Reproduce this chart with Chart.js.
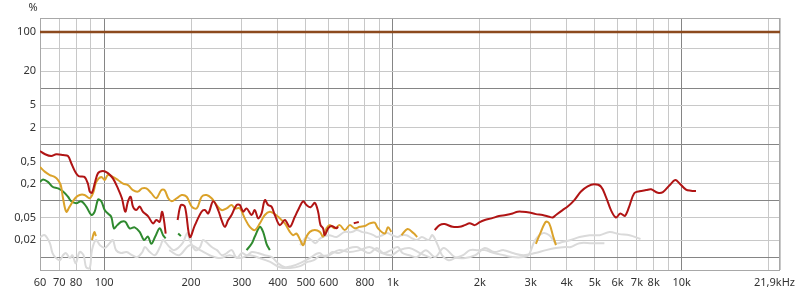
<!DOCTYPE html>
<html>
<head>
<meta charset="utf-8">
<script src="https://cdn.jsdelivr.net/npm/chart.js@4/dist/chart.umd.min.js"></script>
<style>
html,body{margin:0;padding:0;background:#fff}
</style>
</head>
<body>
<canvas id="c" width="800" height="294"></canvas>
<script>
// distortion, % vs frequency (Hz); null = gap in the trace
var refHz = [60, 21900]
var refPct = [100, 100]

var thdHz = [60,62.3,65.6,68.3,72.1,75,77,79.4,81.6,85.5,87.9,89.2,90.8,92.8,95.3,99.1,103.1,107.3,111.7,115.3,118.4,121,123.6,125.9,129.2,132.8,136.3,141.9,147.7,151.6,155.8,158.7,161.2,163.4,170,
  179.7,184.5,190.4,198.2,206.3,217.6,223.4,229.4,238.7,248.3,255.2,262,269,276.3,287.5,295.2,303.1,311.4,324.1,332.7,341.6,351,360.3,369.9,380,390.1,406,422.6,439.8,457.6,469.8,488.8,502.3,518.6,536.6,550.9,561.6,573.3,581.1,596.7,613,637.9,646,700,
  732,762,900,
  1396,1452,1512,1610,1703,1774,1845,1920,2000,2081,2196,2331,2462,2597,2703,2813,2965,3128,3300,3479,3575,3670,3870,4030,4250,4480,4725,4980,5250,5465,5690,5920,6130,6360,6580,6850,7140,7530,7840,8270,8610,9080,9500,9830,10350,10770,11210]
var thdPct = [0.765,0.678,0.625,0.67,0.65,0.625,0.465,0.33,0.275,0.266,0.202,0.146,0.139,0.202,0.31,0.34,0.31,0.25,0.166,0.111,0.064,0.098,0.118,0.079,0.0685,0.079,0.064,0.0536,0.0397,0.0455,0.0425,0.064,0.0455,0.0262,null,
  0.0455,0.084,0.079,0.0228,0.037,0.064,0.0685,0.0596,0.098,0.0685,0.0455,0.0345,0.0455,0.056,0.084,0.084,0.064,0.0733,0.056,0.0685,0.0488,0.0596,0.103,0.084,0.079,0.056,0.037,0.0455,0.0345,0.052,0.0685,0.098,0.084,0.077,0.092,0.064,0.037,0.0325,0.0245,0.0325,0.0356,0.0325,0.0345,null,
  0.040,0.042,null,
  0.0302,0.037,0.0386,0.0345,0.0345,0.037,0.040,0.037,0.042,0.0455,0.0488,0.0536,0.056,0.0596,0.064,0.064,0.062,0.058,0.056,0.052,0.0505,0.056,0.0685,0.079,0.103,0.146,0.18,0.196,0.18,0.118,0.0685,0.0505,0.0596,0.054,0.079,0.136,0.148,0.155,0.16,0.139,0.143,0.189,0.234,0.204,0.158,0.151,0.149]

var h2Hz = [60,62.3,64.9,67.4,69.3,70.8,72.1,74,76,79.4,82.3,85.6,89.2,91.6,94,97.8,100.5,103.1,107.3,111.7,116.3,121,125.9,131.1,135.3,140.1,145.7,151.6,157.8,162,166.8,171.4,178.4,185.7,193.2,201.1,209.3,217.7,226.5,235.7,245.3,255.2,265.6,276.3,283.7,295.2,307.1,319.6,332.7,346.2,360.3,374.9,390.1,406,422.6,439.8,451.6,464.1,477.5,489.1,502.3,515.7,536.6,558.4,573.3,589,604.8,629.3,654.9,681.4,709,737.8,767.8,798.9,831.3,865,888,937,962,988,1030,
  1071,1124,1178,1214,1500,
  3128,3255,3387,3477,3590,3670]
var h2Pct = [0.40,0.33,0.287,0.266,0.234,0.19,0.111,0.064,0.079,0.111,0.127,0.127,0.111,0.137,0.217,0.266,0.234,0.287,0.266,0.234,0.202,0.19,0.155,0.146,0.166,0.166,0.137,0.111,0.155,0.155,0.111,0.098,0.111,0.127,0.118,0.079,0.0733,0.118,0.127,0.111,0.084,0.0685,0.0733,0.084,0.0733,0.0733,0.0488,0.0345,0.0302,0.0397,0.056,0.064,0.0581,0.0488,0.0397,0.0281,0.0245,0.0262,0.0201,0.0163,0.0232,0.0281,0.0302,0.0281,0.0232,0.0325,0.037,0.0325,0.037,0.0302,0.037,0.0325,0.0345,0.0356,0.0397,0.0408,0.0325,0.0262,0.0338,0.0281,null,
  0.0245,0.0315,0.0267,0.0227,null,
  0.0172,0.0281,0.0425,0.0397,0.0232,0.0163]
var h2bitHz = [90.8,92.5,93.7]
var h2bitPct = [0.0201,0.0278,0.0236]

var h3Hz = [60,61.5,63.9,66.3,69.3,72.1,75,77,80.1,83.4,86.8,90.4,92.8,95.3,97.8,100.5,103.1,105.9,108.2,111.1,114.7,118.4,122.6,127.6,132.8,137.5,141.9,145.7,150.4,155.8,160.1,163.4,170,
  180.5,184.5,250,
  311.4,324.1,332.7,346.2,355.4,365.2,374.9]
var h3Pct = [0.217,0.24,0.217,0.178,0.166,0.146,0.118,0.098,0.0906,0.098,0.079,0.056,0.064,0.105,0.098,0.0685,0.0596,0.052,0.0325,0.037,0.0425,0.0425,0.0325,0.0338,0.0281,0.0201,0.0232,0.0172,0.0232,0.0325,0.0245,0.0215,null,
  0.0262,0.0236,null,
  0.0133,0.0172,0.0232,0.0345,0.0281,0.0172,0.0133]

var h4Hz = [60,62.3,64.9,66.3,68.2,70.3,72.1,73.8,76.2,77.7,79.8,82.3,84.9,86.7,89.2,90.8,93.7,96.8,100.5,104.6,107.3,110,114.4,119.6,125,130.2,135.7,138.5,144.1,150,156.2,160,163.1,168.5,175,187,194,198,207,215,220,226,236,246,256,266,277,288,300,312,325,341,360,381,400,423,446,477,515,556,584,617,650,708,750,785,830,880,925,985,1040,1080,1140,1210,1300,1400,1500,1640,1780,1930,2080,2240,2420,2600,2830,3110,3390,3670,3960,4130,4430,4880,5400]
var h4Pct = [0.0227,0.0245,0.0177,0.0118,0.0096,0.0088,0.0108,0.0118,0.0096,0.0108,0.0078,0.0123,0.0108,0.0066,0.0064,0.0133,0.0201,0.0163,0.0145,0.0177,0.0201,0.0133,0.0118,0.0123,0.0108,0.010,0.0123,0.0151,0.0123,0.0108,0.0151,0.0201,0.0185,0.0151,0.0133,0.0177,0.0267,0.0201,0.0133,0.0151,0.0201,0.0185,0.0151,0.0133,0.0108,0.0118,0.0133,0.0096,0.0118,0.0108,0.0123,0.0118,0.0108,0.010,0.0078,0.0066,0.0069,0.0078,0.0096,0.0118,0.010,0.0123,0.0118,0.0145,0.0151,0.0133,0.0118,0.0145,0.0118,0.0133,0.0151,0.0118,0.0108,0.010,0.0133,0.010,0.0145,0.010,0.0096,0.0108,0.0145,0.0123,0.0133,0.0118,0.0108,0.0118,0.0133,0.0145,0.0151,0.0151,0.0177,0.0177,0.0177]

var h5Hz = [477,491,502,522,540,562,600,639,678,720,750,785,820,857,880,920,955,995,1040,1070,1115,1160,1210,1260,1330,1370,1430,1480,1560,1640,1750,1850,1970,2080,2240,2420,2600,2830,2950,3110,3310,3480,3670,3860,4130,4430,4800,5200,5630,6080,6600,7200]
var h5Pct = [0.0163,0.0201,0.0227,0.0201,0.0177,0.0218,0.0245,0.0227,0.0278,0.0278,0.0302,0.0278,0.0267,0.0245,0.0227,0.0245,0.0267,0.0245,0.0227,0.0245,0.0245,0.0218,0.0201,0.0227,0.0201,0.0245,0.0163,0.0108,0.0088,0.0096,0.0108,0.0133,0.0133,0.0133,0.0118,0.0108,0.010,0.010,0.0108,0.0201,0.0267,0.0245,0.0177,0.0185,0.0201,0.0227,0.0245,0.0245,0.0278,0.0256,0.0245,0.021]

var h6Hz = [168,182,198,215,232,252,272,295,320,346,376,406,440,477,506,533,556,600,650,708,768,830,900,985,1055,1140,1240,1360]
var h6Pct = [0.0133,0.0108,0.0163,0.0133,0.0108,0.0096,0.0108,0.0096,0.0108,0.0096,0.0082,0.0066,0.0064,0.0069,0.0082,0.0088,0.0104,0.0108,0.0133,0.0123,0.0133,0.0151,0.0123,0.0108,0.0133,0.0145,0.0118,0.0096]

// axes
var xGridHz = [60,70,80,90,100,200,300,400,500,600,700,800,900,1000,2000,3000,4000,5000,6000,7000,8000,9000,10000,20000,21900]
var xMajorHz = [100,1000,10000]
var xLabelHz = [60,70,80,100,200,300,400,500,600,800,1000,2000,3000,4000,5000,6000,7000,8000,10000]
var xLabelText = ['60','70','80','100','200','300','400','500','600','800','1k','2k','3k','4k','5k','6k','7k','8k','10k']
var yGridPct = [0.01,0.02,0.05,0.1,0.2,0.5,1,2,5,10,20,50,100]
var yMajorPct = [0.01,0.1,1,10,100]
var yLabelPct = [0.02,0.05,0.2,0.5,2,5,20,100]

var toPoints = function(hz, pct){
  return hz.map(function(f, i){ return {x: f, y: pct[i]} })
}
var line = function(hz, pct, color, order, width){
  return {
    data: toPoints(hz, pct),
    borderColor: color,
    borderWidth: width || 2,
    pointRadius: 0,
    tension: 0.35,
    spanGaps: false,
    order: order
  }
}

var labelFont = '11px "Noto Sans", "DejaVu Sans", sans-serif'

var decor = {
  id: 'decor',
  beforeDatasetsDraw: function(chart){
    var a = chart.chartArea, ctx = chart.ctx
    ctx.save()
    ctx.strokeStyle = '#a8a8a8'
    ctx.lineWidth = 1
    ctx.strokeRect(a.left + 0.5, a.top + 0.5, a.right - a.left - 1, a.bottom - a.top)
    ctx.restore()
  },
  afterDraw: function(chart){
    var ctx = chart.ctx, xs = chart.scales.x
    ctx.save()
    ctx.font = labelFont
    ctx.fillStyle = '#333'
    ctx.textBaseline = 'middle'
    ctx.textAlign = 'center'
    xLabelHz.forEach(function(f, i){
      ctx.fillText(xLabelText[i], xs.getPixelForValue(f), 283)
    })
    ctx.textAlign = 'right'
    ctx.fillText('21,9kHz', 795, 283)
    ctx.textAlign = 'center'
    ctx.fillText('%', 33, 8)
    ctx.restore()
  }
}

new Chart(document.getElementById('c'), {
  type: 'line',
  data: {
    datasets: [
      line(refHz, refPct, '#8c4a1e', 0, 2.5),
      line(thdHz, thdPct, '#b01414', 1),
      line(h2Hz, h2Pct, '#dba22a', 2),
      line(h2bitHz, h2bitPct, '#dba22a', 2),
      line(h3Hz, h3Pct, '#2f8a2f', 3),
      line(h4Hz, h4Pct, '#dadada', 4),
      line(h5Hz, h5Pct, '#dadada', 4),
      line(h6Hz, h6Pct, '#dadada', 4)
    ]
  },
  options: {
    responsive: false,
    animation: false,
    layout: {padding: {top: 18, right: 20, left: 0, bottom: 0}},
    plugins: {legend: {display: false}, tooltip: {enabled: false}},
    scales: {
      x: {
        type: 'logarithmic',
        min: 60,
        max: 21900,
        afterBuildTicks: function(s){ s.ticks = xGridHz.map(function(v){ return {value: v} }) },
        afterFit: function(s){ s.height = 24 },
        ticks: {display: false},
        border: {display: false},
        grid: {
          drawTicks: false,
          color: function(c){ return xMajorHz.indexOf(c.tick.value) >= 0 ? '#858585' : '#c8c8c8' }
        }
      },
      y: {
        type: 'logarithmic',
        min: 0.0059,
        max: 177,
        afterBuildTicks: function(s){ s.ticks = yGridPct.map(function(v){ return {value: v} }) },
        afterFit: function(s){ s.width = 40 },
        border: {display: false},
        ticks: {
          padding: 4,
          color: '#333',
          font: {family: '"Noto Sans", "DejaVu Sans", sans-serif', size: 11},
          autoSkip: false,
          callback: function(v){
            return yLabelPct.indexOf(v) >= 0 ? String(v).replace('.', ',') : ''
          }
        },
        grid: {
          drawTicks: false,
          color: function(c){ return yMajorPct.indexOf(c.tick.value) >= 0 ? '#858585' : '#c8c8c8' }
        }
      }
    }
  },
  plugins: [decor]
})
</script>
</body>
</html>
